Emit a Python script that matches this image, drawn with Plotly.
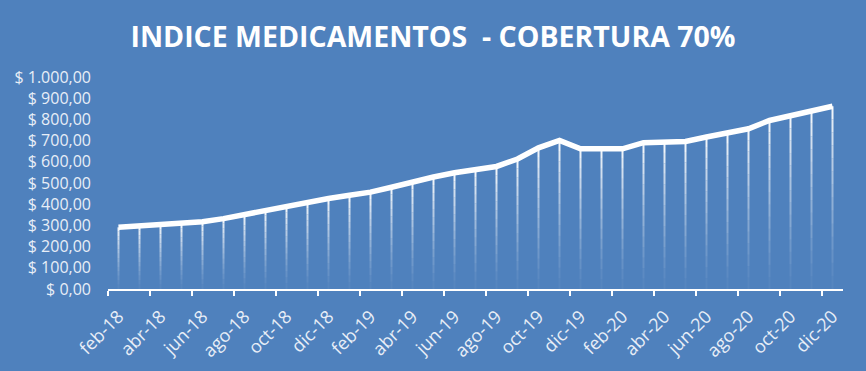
import plotly.graph_objects as go

months = ["feb-18","mar-18","abr-18","may-18","jun-18","jul-18","ago-18","sep-18","oct-18","nov-18","dic-18","ene-19",
          "feb-19","mar-19","abr-19","may-19","jun-19","jul-19","ago-19","sep-19","oct-19","nov-19","dic-19","ene-20",
          "feb-20","mar-20","abr-20","may-20","jun-20","jul-20","ago-20","sep-20","oct-20","nov-20","dic-20"]
values = [291, 296, 301, 309, 317, 332, 351, 373, 388, 411, 427, 442,
          457, 480, 506, 528, 548, 565, 578, 613, 666, 701, 661, 661,
          661, 690, 691, 696, 717, 737, 756, 795, 816, 839, 862]
y_ticks = [0, 100, 200, 300, 400, 500, 600, 700, 800, 900, 1000]
y_labels = ["$ 0,00", "$ 100,00", "$ 200,00", "$ 300,00", "$ 400,00", "$ 500,00",
            "$ 600,00", "$ 700,00", "$ 800,00", "$ 900,00", "$ 1.000,00"]
title = "INDICE MEDICAMENTOS  - COBERTURA 70%"

BG = "#4f81bd"
xs = list(range(len(months)))

fig = go.Figure()

# fading drop lines (gradient approximated by segments)
N = 14
for k in range(N):
    sx, sy = [], []
    for x, v in zip(xs, values):
        sx += [x, x, None]
        sy += [v * k / N, v * (k + 1) / N, None]
    op = 0.03 + 0.92 * ((k + 0.5) / N) ** 1.3
    fig.add_trace(go.Scatter(x=sx, y=sy, mode="lines",
                             line=dict(color=f"rgba(255,255,255,{op:.3f})", width=2),
                             hoverinfo="skip", showlegend=False))

fig.add_trace(go.Scatter(x=xs, y=values, mode="lines",
                         line=dict(color="white", width=5.5),
                         showlegend=False))

fig.update_layout(
    width=866, height=371,
    paper_bgcolor=BG, plot_bgcolor=BG,
    margin=dict(l=108, r=23, t=77, b=82, autoexpand=False),
    title=dict(text=title, x=0.5, xanchor="center", y=0.9, yanchor="middle",
               font=dict(family="Open Sans", size=28.5, color="white", weight="bold")),
    font=dict(family="Open Sans", color="#e8eef7"),
    xaxis=dict(
        range=[-0.5, len(months) - 0.5],
        tickmode="array", tickvals=xs[::2], ticktext=months[::2],
        tickangle=-45, ticks="", showgrid=False, zeroline=False,
        showline=True, linecolor="white", linewidth=2, automargin=False,
        tickfont=dict(size=18, color="#e8eef7"), ticklabelstandoff=8,
        minor=dict(tickmode="linear", tick0=-0.5, dtick=2, ticks="outside",
                   ticklen=5, tickwidth=2, tickcolor="white", showgrid=False),
    ),
    yaxis=dict(
        range=[0, 1000], tickmode="array", tickvals=y_ticks, ticktext=y_labels,
        showgrid=False, zeroline=False, showline=False, ticks="", automargin=False,
        tickfont=dict(size=16, color="#e8eef7"), ticklabelstandoff=16,
    ),
)

fig.write_html("out.html", config={"displayModeBar": False},
               post_script="document.body.style.margin='0';document.body.style.background='%s';" % BG)
